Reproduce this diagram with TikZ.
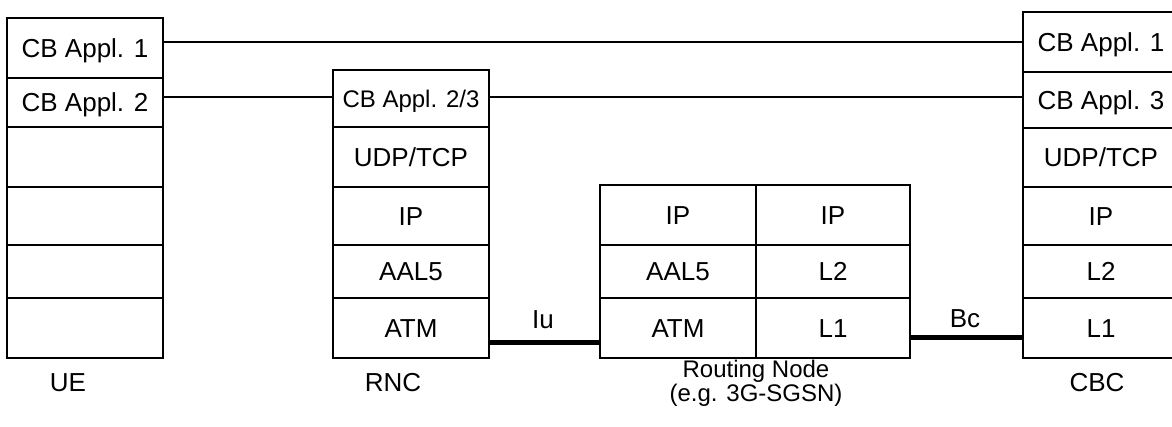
\documentclass[tikz,border=0pt]{standalone}
\usepackage{fontspec}
\setmainfont{Liberation Sans}
\begin{document}
\begin{tikzpicture}[x=1pt,y=-1pt,
  cell/.style={draw=black, line width=1.5pt, inner sep=0pt, minimum width=156pt,
    font=\fontsize{26}{30}\selectfont, text height=18.5pt, text depth=0pt},
  cellsmall/.style={cell, font=\fontsize{24}{28}\selectfont, text height=17pt},
  link/.style={draw=black, line width=1.5pt},
  trunk/.style={draw=black, line width=5pt},
  lbl/.style={inner sep=0pt, font=\fontsize{26}{30}\selectfont},
  lblsmall/.style={inner sep=0pt, font=\fontsize{24}{28}\selectfont}]
\useasboundingbox (0,0) rectangle (1172,426);

% UE stack (x 7..163)
\node[cell, minimum height=60pt] (ue1) at (85,48)    {CB Appl. 1};
\node[cell, minimum height=49pt] (ue2) at (85,102.5) {CB Appl. 2};
\node[cell, minimum height=60pt] (ue3) at (85,157)   {};
\node[cell, minimum height=58pt] (ue4) at (85,216)   {};
\node[cell, minimum height=53pt] (ue5) at (85,271.5) {};
\node[cell, minimum height=60pt] (ue6) at (85,328)   {};

% RNC stack (x 333..489)
\node[cellsmall, minimum height=57pt] (rn1) at (411,98.5) {CB Appl. 2/3};
\node[cell, minimum height=60pt] (rn2) at (411,157)   {UDP/TCP};
\node[cell, minimum height=58pt] (rn3) at (411,216)   {IP};
\node[cell, minimum height=53pt] (rn4) at (411,271.5) {AAL5};
\node[cell, minimum height=60pt] (rn5) at (411,328)   {ATM};

% Routing node (x 600..756..910)
\node[cell, minimum height=60pt] (ra1) at (678,215)   {IP};
\node[cell, minimum height=53pt] (ra2) at (678,271.5) {AAL5};
\node[cell, minimum height=60pt] (ra3) at (678,328)   {ATM};
\node[cell, minimum width=154pt, minimum height=60pt] (rb1) at (833,215)   {IP};
\node[cell, minimum width=154pt, minimum height=53pt] (rb2) at (833,271.5) {L2};
\node[cell, minimum width=154pt, minimum height=60pt] (rb3) at (833,328)   {L1};

% CBC stack (x 1023..1179)
\node[cell, minimum height=60pt] (cb1) at (1101,42)    {CB Appl. 1};
\node[cell, minimum height=56pt] (cb2) at (1101,100)   {CB Appl. 3};
\node[cell, minimum height=59pt] (cb3) at (1101,157.5) {UDP/TCP};
\node[cell, minimum height=58pt] (cb4) at (1101,216)   {IP};
\node[cell, minimum height=53pt] (cb5) at (1101,271.5) {L2};
\node[cell, minimum height=60pt] (cb6) at (1101,328)   {L1};

% peer links
\draw[link] (ue1.east |- cb1.west) -- (cb1.west);
\draw[link] ([yshift=1.5pt]ue2.east |- rn1.west) -- ([yshift=1.5pt]rn1.west);
\draw[link] ([yshift=1.5pt]rn1.east) -- ([yshift=1.5pt]cb2.west |- rn1.east);

% interfaces
\draw[trunk] ([yshift=16pt]rn5.south east) -- ([yshift=16pt]ra3.south west);
\draw[trunk] ([yshift=21pt]rb3.south east) -- ([yshift=21pt]cb6.south west);
\node[lbl] (iu) at (543,320) {Iu};
\node[lbl] (bc) at (965,319) {Bc};

% captions
\node[lbl] (cue)  at (68,383)  {UE};
\node[lbl] (crnc) at (393,383) {RNC};
\node[lblsmall] (crt1) at (756,371) {Routing Node};
\node[lblsmall] (crt2) at (756,395) {(e.g. 3G-SGSN)};
\node[lbl] (ccbc) at (1097,383) {CBC};
\end{tikzpicture}
\end{document}
